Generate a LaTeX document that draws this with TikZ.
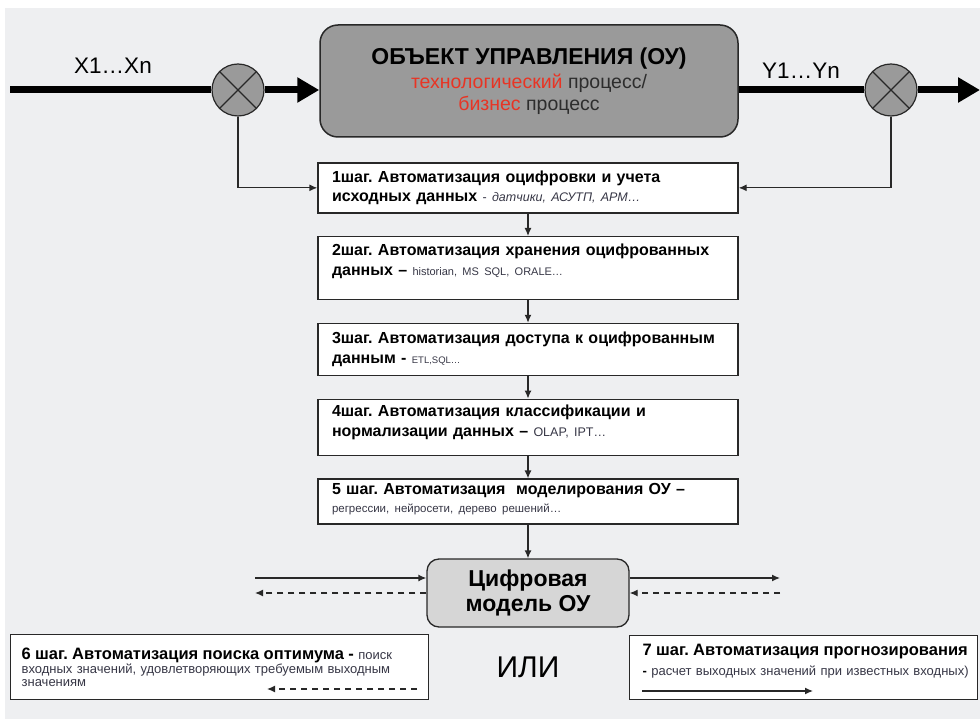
\documentclass[tikz,border=0pt]{standalone}
\usepackage{fontspec}
\setmainfont{Liberation Sans}
\usetikzlibrary{arrows.meta, positioning}
\definecolor{bggray}{RGB}{238,239,241}
\definecolor{ougray}{RGB}{154,154,154}
\definecolor{dmgray}{RGB}{214,214,214}
\definecolor{edge}{RGB}{40,40,40}
\definecolor{redword}{RGB}{232,52,36}
\definecolor{darkword}{RGB}{45,45,45}
\definecolor{subtext}{RGB}{55,55,70}
\frenchspacing
\newcommand{\stepfont}{\fontsize{16}{19.5}\selectfont\bfseries}
\newcommand{\subfont}[2][11]{{\fontsize{#1}{12}\selectfont\mdseries\color{subtext}#2}}
\newcommand{\lift}[1]{\rule[-#1]{0pt}{#1}}

\begin{document}
\begin{tikzpicture}[x=1pt, y=-1pt,
  stepbox/.style={draw=edge, line width=1.3pt, fill=white, minimum width=420pt, text width=392pt, align=left, inner xsep=14pt, inner ysep=2pt, font=\stepfont},
  sidebox/.style={draw=edge, line width=1.3pt, fill=white, anchor=north west, align=left, inner ysep=2pt},
  sumnode/.style={draw=edge, line width=1.2pt, circle, fill=ougray, minimum size=52pt, inner sep=0pt},
  bigline/.style={line width=7pt, draw=black},
  link/.style={line width=1.3pt, draw=edge, -{Latex[length=8pt,width=7pt]}},
  dashlink/.style={link, dash pattern=on 6pt off 5pt},
]
% background
\fill[white] (0,0) rectangle (980,719);
\fill[bggray] (5,8) rectangle (980,719);
\useasboundingbox (0,0) rectangle (980,719);

% object of control
\node[draw=edge, line width=1.5pt, fill=ougray, rounded corners=18pt, minimum width=418pt, minimum height=112pt, align=center, font=\fontsize{19.5}{22}\selectfont] (ou) at (529,81)
  {{\fontsize{23}{28}\selectfont\bfseries ОБЪЕКТ УПРАВЛЕНИЯ (ОУ)}\\[2pt]
   \textcolor{redword}{технологический} \textcolor{darkword}{процесс/}\\
   \textcolor{redword}{бизнес} \textcolor{darkword}{процесс}};

\node[sumnode] (sx) at (238,90) {};
\node[sumnode] (sy) at (891,90) {};
\foreach \s in {sx, sy}
  \draw[edge, line width=1.2pt] (\s.north west) -- (\s.south east) (\s.north east) -- (\s.south west);

\node[font=\fontsize{22.5}{24}\selectfont] (xlab) at (113,66) {X1…Xn};
\node[font=\fontsize{22.5}{24}\selectfont] (ylab) at (801,71) {Y1…Yn};

\coordinate (xin) at (10,90);
\coordinate (yout) at (980,90);
\draw[bigline] (xin) -- (sx.west);
\draw[bigline, -{Triangle[length=22pt,width=24pt]}] (sx.east) -- (sx.east -| ou.west);
\draw[bigline] (sy.west -| ou.east) -- (sy.west);
\draw[bigline, -{Triangle[length=22pt,width=24pt]}] (sy.east) -- (yout);

% steps 1-5
\matrix (steps) [row sep=22.5pt, anchor=north, inner sep=0pt] at (528,162) {
\node[stepbox, minimum height=50pt] (s1) {1шаг. Автоматизация оцифровки и учета\\исходных данных \subfont[12.5]{- \textit{датчики, АСУТП, АРМ…}}}; \\
\node[stepbox, minimum height=63pt] (s2) {2шаг. Автоматизация хранения оцифрованных\\данных – \subfont{historian, MS SQL, ORALE…}\lift{17pt}}; \\
\node[stepbox, minimum height=52pt] (s3) {3шаг. Автоматизация доступа к оцифрованным\\данным - \subfont[9.5]{ETL,SQL…}}; \\
\node[stepbox, minimum height=56pt] (s4) {4шаг. Автоматизация классификации и\\нормализации данных – \subfont[12.5]{OLAP, IPT…}\lift{13pt}}; \\
\node[stepbox, minimum height=45pt, font=\fontsize{16}{18}\selectfont\bfseries] (s5) {5 шаг. Автоматизация \ моделирования ОУ –\\\subfont[11.5]{регрессии, нейросети, дерево решений…}\lift{8pt}}; \\
};

\draw[link] (sx.south) |- (s1.west);
\draw[link] (sy.south) |- (s1.east);
\foreach \a/\b in {s1/s2, s2/s3, s3/s4, s4/s5}
  \draw[link] (\a) -- (\b);

% digital model
\node[draw=edge, line width=1.3pt, fill=dmgray, rounded corners=12pt, minimum width=202pt, minimum height=68pt, align=center, font=\fontsize{23}{25}\selectfont\bfseries] (dm) at (528,593) {Цифровая\\модель ОУ};
\draw[link] (s5) -- (dm);

\coordinate (lin) at (255,578);
\coordinate (lout) at (255,593);
\coordinate (rout) at (780,578);
\coordinate (rin) at (780,593);
\draw[link] (lin) -- (lin -| dm.west);
\draw[dashlink] (dm.west) -- (lout);
\draw[link] (rout -| dm.east) -- (rout);
\draw[dashlink] (rin) -- (dm.east);

% steps 6 and 7
\node[sidebox, minimum width=418pt, minimum height=65pt, text width=396pt, inner xsep=11pt, font=\fontsize{13}{14}\selectfont] (s6) at (10,634)
  {\mbox{{\fontsize{16.5}{18}\selectfont\bfseries 6 шаг. Автоматизация поиска оптимума -} \subfont[13]{поиск}}\\
   \mbox{\subfont[13]{входных значений, удовлетворяющих требуемым выходным}}\\[-1pt]
   \subfont[13]{значениям}};
\node[sidebox, minimum width=348pt, minimum height=64pt, text width=322pt, inner xsep=13pt, font=\fontsize{13}{14}\selectfont] (s7) at (629,635)
  {\mbox{\fontsize{16.5}{18}\selectfont\bfseries 7 шаг. Автоматизация прогнозирования}\\[6pt]
   \mbox{{\bfseries -} \subfont[13]{расчет выходных значений при известных входных)}}\lift{16pt}};

\coordinate (o6a) at (417,689);
\coordinate (o6b) at (267,689);
\coordinate (o7a) at (642,691);
\coordinate (o7b) at (813,691);
\draw[dashlink] (o6a) -- (o6b);
\draw[link] (o7a) -- (o7b);

\node[font=\fontsize{30}{32}\selectfont] (ili) at (528,667) {ИЛИ};
\end{tikzpicture}
\end{document}
